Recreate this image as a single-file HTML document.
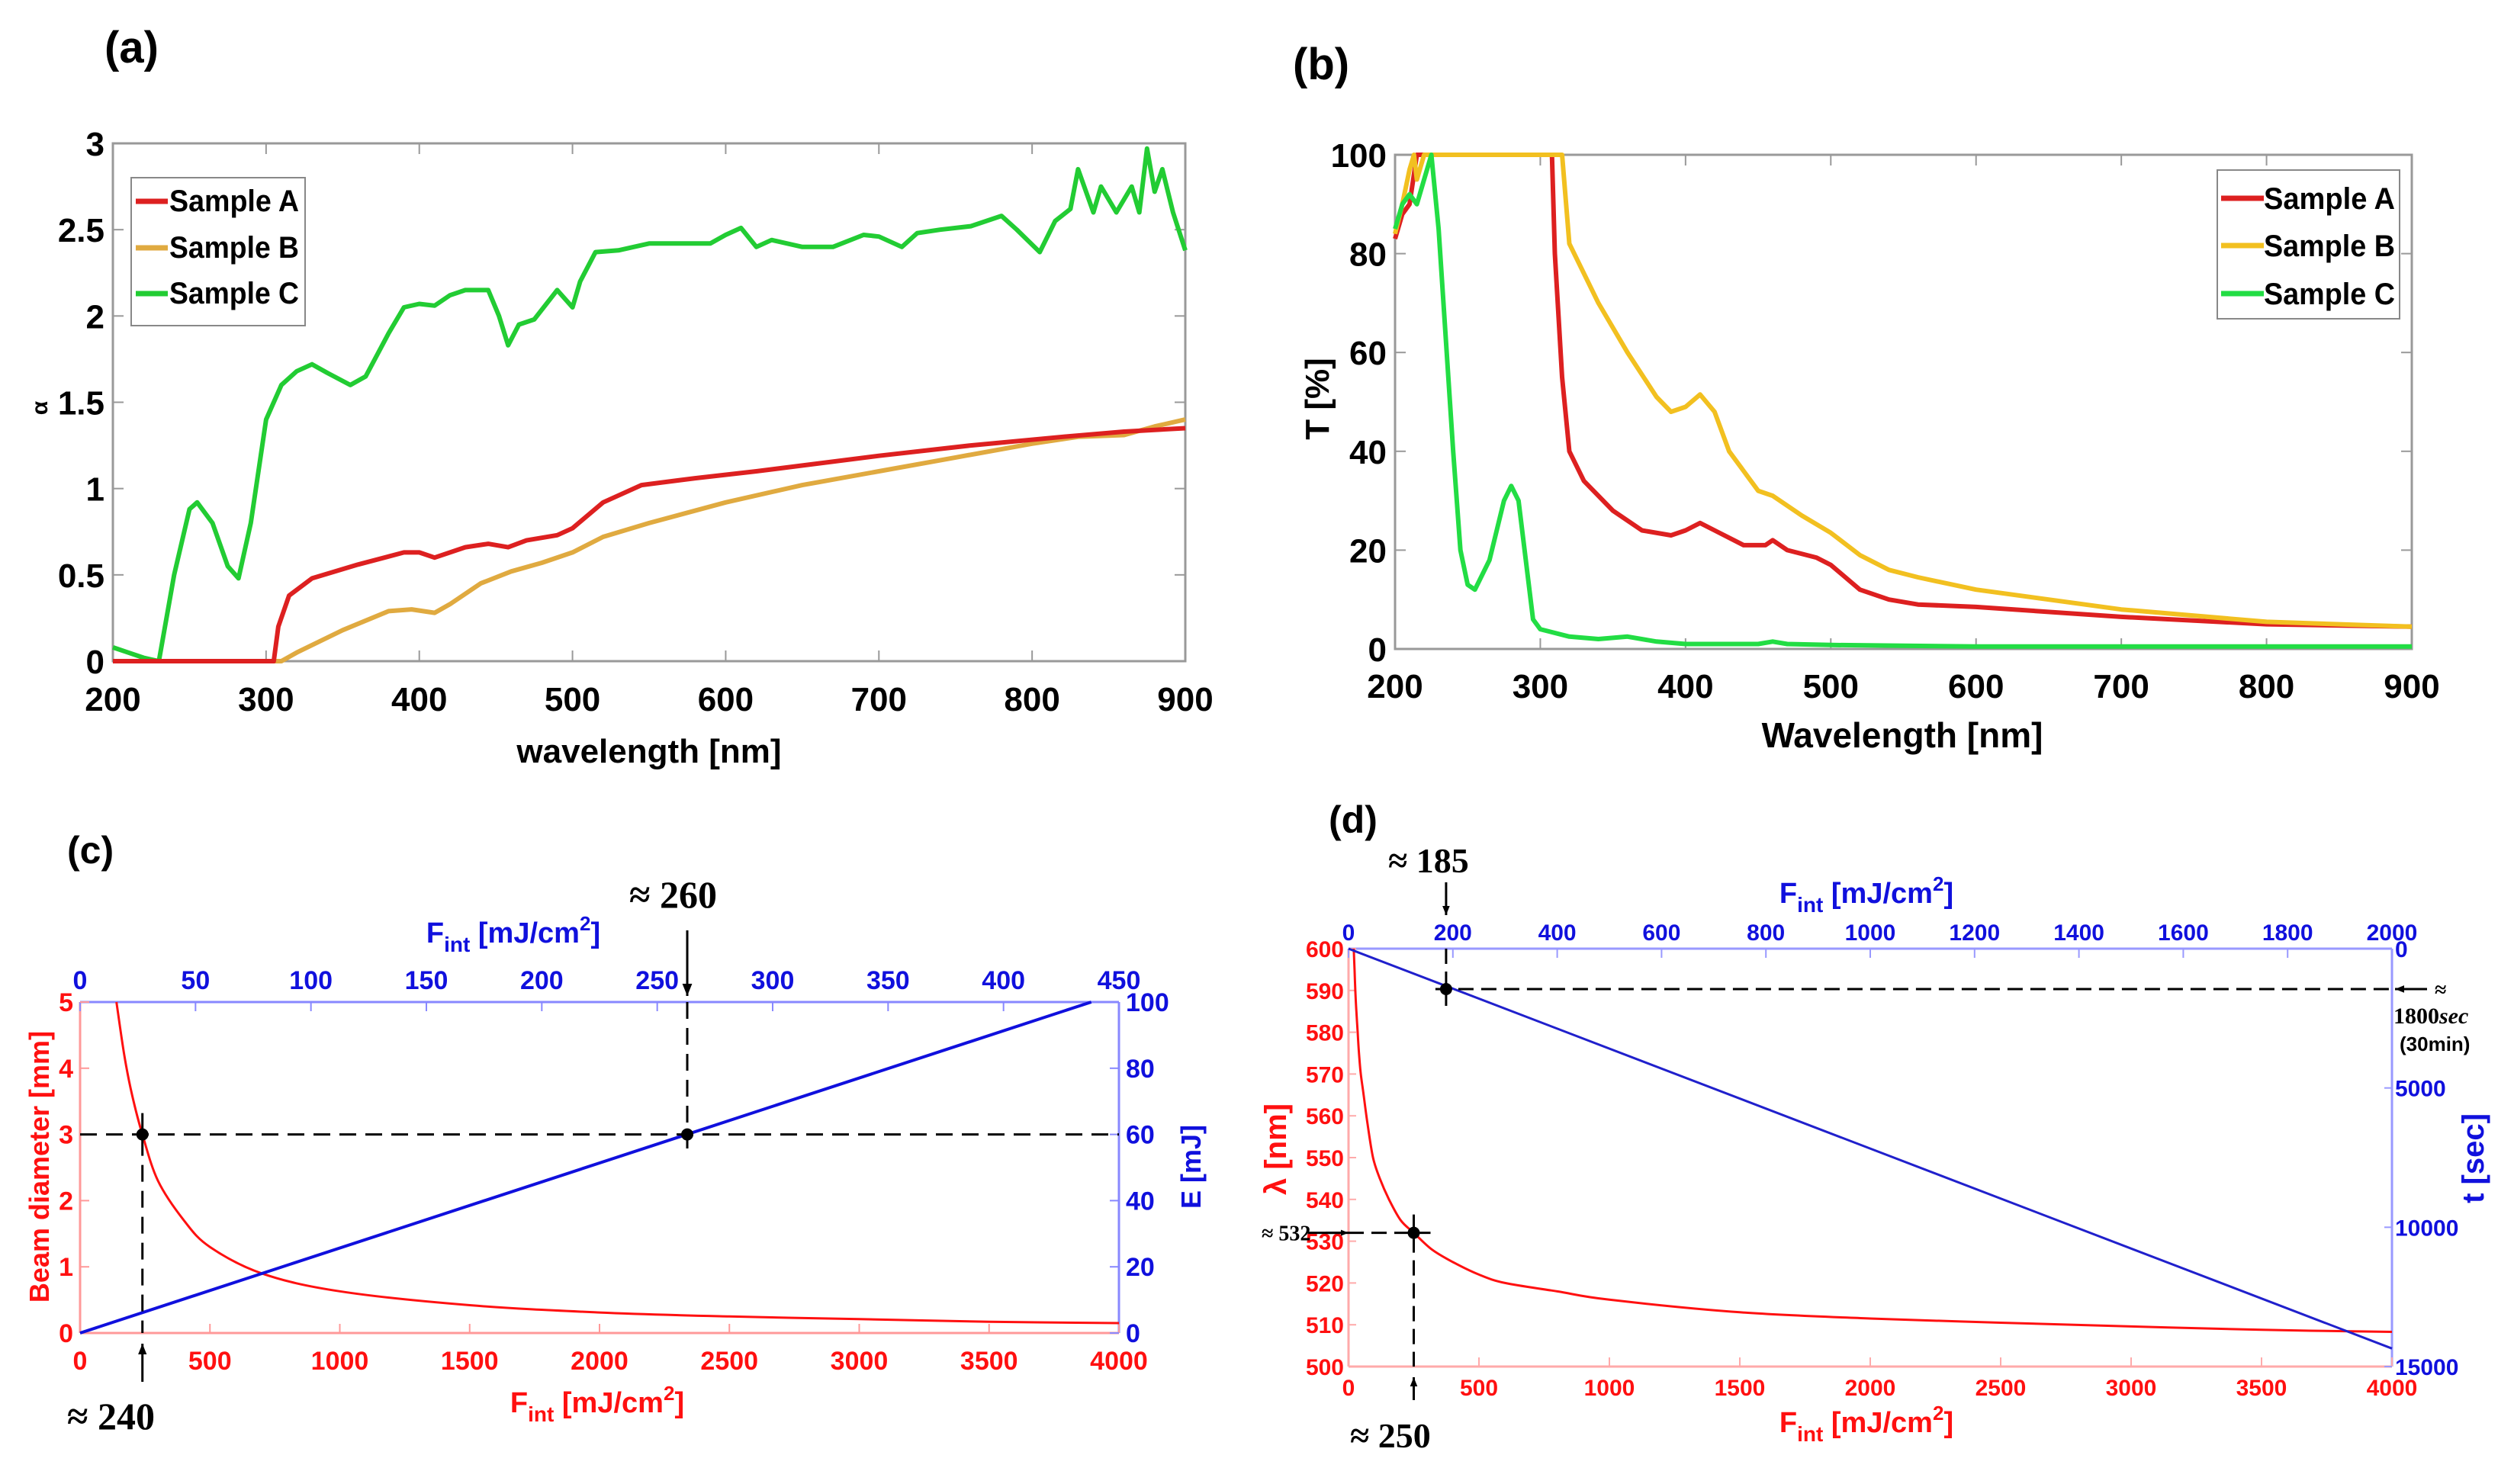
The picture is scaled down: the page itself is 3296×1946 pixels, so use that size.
<!DOCTYPE html>
<html><head><meta charset="utf-8">
<style>
html,body{margin:0;padding:0;background:#fff;}
svg{display:block;}
text{font-family:"Liberation Sans",sans-serif;font-weight:bold;}
.serif{font-family:"Liberation Serif",serif;}
</style></head>
<body>
<svg id="fig" width="3296" height="1946" viewBox="0 0 3296 1946" xmlns="http://www.w3.org/2000/svg">
<rect width="3296" height="1946" fill="#fff"/>
<g id="pa"></g>
<g id="pb"></g>
<g id="pc"></g>
<g id="pd"></g>
</svg>
<script>
// ---------- Panel (a) data ----------
const aTicksX = [200,300,400,500,600,700,800,900];
const aTicksY = [0,0.5,1,1.5,2,2.5,3];
const aTickLabelsY = ["0","0.5","1","1.5","2","2.5","3"];
const aC_x = [200,210,220,230,240,250,255,265,275,282,290,300,310,320,330,340,355,365,380,390,400,410,420,430,445,452,458,465,475,490,500,505,515,530,550,570,590,600,610,620,630,650,670,690,700,715,725,740,760,780,790,805,815,825,830,840,845,855,865,870,875,880,885,892,900];
const aC_y = [0.08,0.05,0.02,0,0.5,0.88,0.92,0.8,0.55,0.48,0.8,1.4,1.6,1.68,1.72,1.67,1.6,1.65,1.9,2.05,2.07,2.06,2.12,2.15,2.15,2.0,1.83,1.95,1.98,2.15,2.05,2.2,2.37,2.38,2.42,2.42,2.42,2.47,2.51,2.4,2.44,2.4,2.4,2.47,2.46,2.4,2.48,2.5,2.52,2.58,2.5,2.37,2.55,2.62,2.85,2.6,2.75,2.6,2.75,2.6,2.97,2.72,2.85,2.6,2.38];
const aA_x = [200,305,308,315,330,360,390,400,410,430,445,458,470,490,500,520,545,580,620,700,760,820,860,900];
const aA_y = [0,0,0.2,0.38,0.48,0.56,0.63,0.63,0.6,0.66,0.68,0.66,0.7,0.73,0.77,0.92,1.02,1.06,1.1,1.19,1.25,1.3,1.33,1.35];
const aB_x = [200,310,320,350,380,395,410,420,440,460,480,500,520,550,600,650,700,750,800,830,860,880,900];
const aB_y = [0,0,0.05,0.18,0.29,0.3,0.28,0.33,0.45,0.52,0.57,0.63,0.72,0.8,0.92,1.02,1.1,1.18,1.26,1.3,1.31,1.36,1.4];

// ---------- Panel (b) data ----------
const bTicksX = [200,300,400,500,600,700,800,900];
const bTicksY = [0,20,40,60,80,100];
const bA_x = [200,205,210,215,220,300,308,310,315,320,330,350,370,390,400,410,420,440,455,460,470,490,500,520,540,560,600,700,800,900];
const bA_y = [83,88,90,100,100,100,100,80,55,40,34,28,24,23,24,25.5,24,21,21,22,20,18.5,17,12,10,9,8.5,6.5,5,4.5];
const bB_x = [200,205,210,213,215,220,310,315,320,340,360,380,390,400,410,420,430,450,460,480,500,520,540,560,600,650,700,800,900];
const bB_y = [84,90,97,100,95,100,100,100,82,70,60,51,48,49,51.5,48,40,32,31,27,23.5,19,16,14.5,12,10,8,5.5,4.5];
const bC_x = [200,205,210,215,220,225,230,240,245,250,255,265,275,280,285,290,295,300,320,340,360,380,400,450,460,470,500,600,900];
const bC_y = [85,90,92,90,95,100,85,40,20,13,12,18,30,33,30,18,6,4,2.5,2,2.5,1.5,1,1,1.5,1,0.8,0.5,0.5];

// ---------- Panel (c) data ----------
const cBotTicks = [0,500,1000,1500,2000,2500,3000,3500,4000];
const cTopTicks = [0,50,100,150,200,250,300,350,400,450];
const cLeftTicks = [0,1,2,3,4,5];
const cRightTicks = [0,20,40,60,80,100];
const cD_F = [140,170,200,240,300,400,500,700,1000,1500,2000,2500,3000,3500,4000];
const cD_v = [5,4.2,3.6,3,2.3,1.7,1.3,0.9,0.63,0.42,0.31,0.25,0.21,0.17,0.15];
const cE_F = [0,438];
const cE_v = [0,100];
const cMarkD = [240,3];
const cMarkE = [263,60];

// ---------- Panel (d) data ----------
const dBotTicks = [0,500,1000,1500,2000,2500,3000,3500,4000];
const dTopTicks = [0,200,400,600,800,1000,1200,1400,1600,1800,2000];
const dLeftTicks = [500,510,520,530,540,550,560,570,580,590,600];
const dRightTicks = [0,5000,10000,15000];
const dL_F = [20,23,26,30,35,40,47,58,73,94,120,155,200,250,320,400,500,600,800,1000,1500,2000,2500,3000,3500,4000];
const dL_v = [600,595,590,585,580,575,570,565,558,550,545,540,535,532,528,525,522,520,518,516,513,511.5,510.5,509.6,508.8,508.3];
const dT_F = [0,2000];
const dT_v = [0,14350];
const dMarkL = [250,532];
const dMarkT = [187,1450];

// ---------- helpers ----------
const NS="http://www.w3.org/2000/svg";
function el(parent,tag,attrs,txt){const e=document.createElementNS(NS,tag);for(const k in attrs)e.setAttribute(k,attrs[k]);if(txt!==undefined)e.textContent=txt;parent.appendChild(e);return e;}
function lin(d0,d1,r0,r1){return v=>r0+(v-d0)/(d1-d0)*(r1-r0);}
function pathD(xs,ys,sx,sy){return xs.map((x,i)=>(i?'L':'M')+sx(x).toFixed(1)+' '+sy(ys[i]).toFixed(1)).join(' ');}
function smoothD(xs,ys,sx,sy){
  const P=xs.map((x,i)=>[sx(x),sy(ys[i])]);let d='M'+P[0][0]+' '+P[0][1];
  for(let i=0;i<P.length-1;i++){const p0=P[Math.max(0,i-1)],p1=P[i],p2=P[i+1],p3=P[Math.min(P.length-1,i+2)];
    const c1=[p1[0]+(p2[0]-p0[0])/6,p1[1]+(p2[1]-p0[1])/6],c2=[p2[0]-(p3[0]-p1[0])/6,p2[1]-(p3[1]-p1[1])/6];
    d+=' C'+c1[0].toFixed(1)+' '+c1[1].toFixed(1)+' '+c2[0].toFixed(1)+' '+c2[1].toFixed(1)+' '+p2[0].toFixed(1)+' '+p2[1].toFixed(1);}
  return d;}

// ================= Panel (a) =================
(function(){
const g=document.getElementById('pa');
const L=148,R=1554,T=188,B=867;
const sx=lin(200,900,L,R), sy=lin(0,3,B,T);
let t=el(g,'text',{x:137,y:82,'font-size':58});t.textContent='(a)';


const box=el(g,'rect',{x:L,y:T,width:R-L,height:B-T,fill:'none',stroke:'#999','stroke-width':3});


aTicksX.forEach(v=>{el(g,'line',{x1:sx(v),x2:sx(v),y1:B,y2:B-14,stroke:'#999','stroke-width':2});el(g,'line',{x1:sx(v),x2:sx(v),y1:T,y2:T+14,stroke:'#999','stroke-width':2});
  const tx=el(g,'text',{x:sx(v),y:932,'font-size':44,'text-anchor':'middle'},String(v));
  
  });
aTicksY.forEach((v,i)=>{el(g,'line',{x1:L,x2:L+14,y1:sy(v),y2:sy(v),stroke:'#999','stroke-width':2});el(g,'line',{x1:R,x2:R-14,y1:sy(v),y2:sy(v),stroke:'#999','stroke-width':2});
  const tx=el(g,'text',{x:137,y:sy(v)+16,'font-size':44,'text-anchor':'end'},aTickLabelsY[i]);
  
  });
const xl=el(g,'text',{x:(L+R)/2,y:1000,'font-size':44,'text-anchor':'middle','font-weight':'normal'},'wavelength [nm]');


const yl=el(g,'text',{x:0,y:0,'font-size':30,'text-anchor':'middle','font-weight':'normal',transform:'translate(62,535) rotate(-90)'},'α');


[[aC_x,aC_y,'#22cc33','series-sample-c'],[aB_x,aB_y,'#e0aa40','series-sample-b'],[aA_x,aA_y,'#dd2020','series-sample-a']].forEach(s=>{
  const p=el(g,'path',{d:pathD(s[0],s[1],sx,sy),fill:'none',stroke:s[2],'stroke-width':6,'stroke-linejoin':'round'});
  
  });
const lg=el(g,'g',{});


el(lg,'rect',{x:172,y:233,width:228,height:194,fill:'#fff',stroke:'#888','stroke-width':2});
[['Sample A','#dd2020',277],['Sample B','#e0aa40',338],['Sample C','#22cc33',398]].forEach(e=>{
  const en=el(lg,'g',{});
  
  
  el(en,'line',{x1:178,x2:220,y1:e[2]-13,y2:e[2]-13,stroke:e[1],'stroke-width':7});
  el(en,'text',{x:222,y:e[2],'font-size':40,textLength:170,lengthAdjust:'spacingAndGlyphs'},e[0]);});
})();

// ================= Panel (b) =================
(function(){
const g=document.getElementById('pb');
const L=1829,R=3162,T=203,B=851;
const sx=lin(200,900,L,R), sy=lin(0,100,B,T);
let t=el(g,'text',{x:1695,y:104,'font-size':58},'(b)');


const box=el(g,'rect',{x:L,y:T,width:R-L,height:B-T,fill:'none',stroke:'#999','stroke-width':3});


bTicksX.forEach(v=>{el(g,'line',{x1:sx(v),x2:sx(v),y1:B,y2:B-14,stroke:'#999','stroke-width':2});el(g,'line',{x1:sx(v),x2:sx(v),y1:T,y2:T+14,stroke:'#999','stroke-width':2});
  const tx=el(g,'text',{x:sx(v),y:915,'font-size':44,'text-anchor':'middle'},String(v));
  
  });
bTicksY.forEach(v=>{el(g,'line',{x1:L,x2:L+14,y1:sy(v),y2:sy(v),stroke:'#999','stroke-width':2});el(g,'line',{x1:R,x2:R-14,y1:sy(v),y2:sy(v),stroke:'#999','stroke-width':2});
  const tx=el(g,'text',{x:1818,y:sy(v)+16,'font-size':44,'text-anchor':'end'},String(v));
  
  });
const xl=el(g,'text',{x:2494,y:980,'font-size':46,'text-anchor':'middle'},'Wavelength [nm]');


const yl=el(g,'text',{x:0,y:0,'font-size':44,'text-anchor':'middle',transform:'translate(1742,523) rotate(-90)'},'T  [%]');


[[bA_x,bA_y,'#dd2020','series-sample-a'],[bB_x,bB_y,'#f2c020','series-sample-b'],[bC_x,bC_y,'#22dd44','series-sample-c']].forEach(s=>{
  const p=el(g,'path',{d:pathD(s[0],s[1],sx,sy),fill:'none',stroke:s[2],'stroke-width':6,'stroke-linejoin':'round'});
  
  });
const lg=el(g,'g',{});


el(lg,'rect',{x:2907,y:223,width:239,height:195,fill:'#fff',stroke:'#888','stroke-width':2});
[['Sample A','#dd2020',274],['Sample B','#f2c020',336],['Sample C','#22dd44',399]].forEach(e=>{
  const en=el(lg,'g',{});
  
  
  el(en,'line',{x1:2912,x2:2968,y1:e[2]-14,y2:e[2]-14,stroke:e[1],'stroke-width':7});
  el(en,'text',{x:2968,y:e[2],'font-size':40,textLength:172,lengthAdjust:'spacingAndGlyphs'},e[0]);});
})();

function arrow(g,x1,y1,x2,y2,hs,name){
  const a=el(g,'g',{});
  
  
  el(a,'line',{x1:x1,y1:y1,x2:x2,y2:y2,stroke:'#000','stroke-width':3});
  const ang=Math.atan2(y2-y1,x2-x1),c=Math.cos(ang),s=Math.sin(ang);
  const p=[[x2,y2],[x2-hs*c+hs*0.4*s,y2-hs*s-hs*0.4*c],[x2-hs*c-hs*0.4*s,y2-hs*s+hs*0.4*c]];
  el(a,'polygon',{points:p.map(q=>q.join(',')).join(' '),fill:'#000'});
}

// ================= Panel (c) =================
(function(){
const g=document.getElementById('pc');
const L=105,R=1467,T=1314,B=1748;
const sxB=lin(0,4000,L,R), sxT=lin(0,450,L,R), syL=lin(0,5,B,T), syR=lin(0,100,B,T);
let t=el(g,'text',{x:88,y:1132,'font-size':50},'(c)');


el(g,'line',{x1:L,x2:R,y1:T,y2:T,stroke:'#8888ff','stroke-width':3});
el(g,'line',{x1:R,x2:R,y1:T,y2:B,stroke:'#8888ff','stroke-width':3});
el(g,'line',{x1:L,x2:L,y1:T,y2:B,stroke:'#ff9999','stroke-width':3});
el(g,'line',{x1:L,x2:R,y1:B,y2:B,stroke:'#ff9999','stroke-width':3});
cBotTicks.forEach(v=>{el(g,'line',{x1:sxB(v),x2:sxB(v),y1:B,y2:B-12,stroke:'#ff9999','stroke-width':2});
  const tx=el(g,'text',{x:sxB(v),y:1796,'font-size':34,'text-anchor':'middle',fill:'#ff1010'},String(v));
  
  });
cTopTicks.forEach(v=>{el(g,'line',{x1:sxT(v),x2:sxT(v),y1:T,y2:T+12,stroke:'#8888ff','stroke-width':2});
  const tx=el(g,'text',{x:sxT(v),y:1297,'font-size':34,'text-anchor':'middle',fill:'#1010dd'},String(v));
  
  });
cLeftTicks.forEach(v=>{el(g,'line',{x1:L,x2:L+12,y1:syL(v),y2:syL(v),stroke:'#ff9999','stroke-width':2});
  const tx=el(g,'text',{x:96,y:syL(v)+12,'font-size':34,'text-anchor':'end',fill:'#ff1010'},String(v));
  
  });
cRightTicks.forEach(v=>{el(g,'line',{x1:R,x2:R-12,y1:syR(v),y2:syR(v),stroke:'#8888ff','stroke-width':2});
  const tx=el(g,'text',{x:1476,y:syR(v)+12,'font-size':34,fill:'#1010dd'},String(v));
  
  });
let a=el(g,'text',{x:0,y:0,'font-size':36,'text-anchor':'middle',fill:'#ff1010',transform:'translate(64,1530) rotate(-90)'},'Beam diameter [mm]');


a=el(g,'text',{x:0,y:0,'font-size':36,'text-anchor':'middle',fill:'#1010dd',transform:'translate(1574,1530) rotate(-90)'},'E [mJ]');


a=el(g,'text',{x:783,y:1852,'font-size':38,'text-anchor':'middle',fill:'#ff1010'});
a.innerHTML='F<tspan dy="12" font-size="28">int</tspan><tspan dy="-12"> [mJ/cm</tspan><tspan dy="-16" font-size="26">2</tspan><tspan dy="16">]</tspan>';


a=el(g,'text',{x:673,y:1236,'font-size':38,'text-anchor':'middle',fill:'#1010dd'});
a.innerHTML='F<tspan dy="12" font-size="28">int</tspan><tspan dy="-12"> [mJ/cm</tspan><tspan dy="-16" font-size="26">2</tspan><tspan dy="16">]</tspan>';


let p=el(g,'path',{d:smoothD(cD_F,cD_v,sxB,syL),fill:'none',stroke:'#ff1010','stroke-width':3});


p=el(g,'path',{d:pathD(cE_F,cE_v,sxT,syR),fill:'none',stroke:'#1010dd','stroke-width':4});


const dx=sxB(cMarkD[0]), dy=syL(cMarkD[1]), ex=sxT(cMarkE[0]), ey=syR(cMarkE[1]);
el(g,'line',{x1:L,x2:R,y1:dy,y2:dy,stroke:'#000','stroke-width':3,'stroke-dasharray':'22 12'});
el(g,'line',{x1:dx,x2:dx,y1:dy-28,y2:B,stroke:'#000','stroke-width':3,'stroke-dasharray':'22 12'});
el(g,'line',{x1:ex,x2:ex,y1:T,y2:ey+22,stroke:'#000','stroke-width':3,'stroke-dasharray':'22 12'});
let m=el(g,'circle',{cx:dx,cy:dy,r:8,fill:'#000'});


m=el(g,'circle',{cx:ex,cy:ey,r:8,fill:'#000'});


arrow(g,ex,1220,ex,1306,16,'arrow-260');
arrow(g,dx,1812,dx,1762,14,'arrow-240');
a=el(g,'text',{x:825,y:1190,'font-size':50,class:'serif'},'≈ 260');


a=el(g,'text',{x:88,y:1874,'font-size':50,class:'serif'},'≈ 240');


})();

// ================= Panel (d) =================
(function(){
const g=document.getElementById('pd');
const L=1768,R=3136,T=1244,B=1792;
const sxB=lin(0,4000,L,R), sxT=lin(0,2000,L,R), syL=lin(500,600,B,T), syR=lin(0,15000,T,B);
let t=el(g,'text',{x:1742,y:1092,'font-size':50},'(d)');


el(g,'line',{x1:L,x2:R,y1:T,y2:T,stroke:'#9999ff','stroke-width':3});
el(g,'line',{x1:R,x2:R,y1:T,y2:B,stroke:'#9999ff','stroke-width':3});
el(g,'line',{x1:L,x2:L,y1:T,y2:B,stroke:'#ffaaaa','stroke-width':3});
el(g,'line',{x1:L,x2:R,y1:B,y2:B,stroke:'#ffaaaa','stroke-width':3});
dBotTicks.forEach(v=>{el(g,'line',{x1:sxB(v),x2:sxB(v),y1:B,y2:B-12,stroke:'#ffaaaa','stroke-width':2});
  const tx=el(g,'text',{x:sxB(v),y:1830,'font-size':30,'text-anchor':'middle',fill:'#ff1010'},String(v));
  
  });
dTopTicks.forEach(v=>{el(g,'line',{x1:sxT(v),x2:sxT(v),y1:T,y2:T+12,stroke:'#9999ff','stroke-width':2});
  const tx=el(g,'text',{x:sxT(v),y:1233,'font-size':30,'text-anchor':'middle',fill:'#1010dd'},String(v));
  
  });
dLeftTicks.forEach(v=>{el(g,'line',{x1:L,x2:L+10,y1:syL(v),y2:syL(v),stroke:'#ffaaaa','stroke-width':2});
  const tx=el(g,'text',{x:1762,y:syL(v)+11,'font-size':30,'text-anchor':'end',fill:'#ff1010'},String(v));
  
  });
dRightTicks.forEach(v=>{el(g,'line',{x1:R,x2:R-10,y1:syR(v),y2:syR(v),stroke:'#9999ff','stroke-width':2});
  const tx=el(g,'text',{x:3140,y:syR(v)+11,'font-size':30,fill:'#1010dd'},String(v));
  
  });
let a=el(g,'text',{x:0,y:0,'font-size':40,'text-anchor':'middle',fill:'#ff1010',transform:'translate(1686,1507) rotate(-90)'},'λ  [nm]');


a=el(g,'text',{x:0,y:0,'font-size':40,'text-anchor':'middle',fill:'#1010dd',transform:'translate(3256,1519) rotate(-90)'},'t  [sec]');


a=el(g,'text',{x:2447,y:1878,'font-size':38,'text-anchor':'middle',fill:'#ff1010'});
a.innerHTML='F<tspan dy="12" font-size="28">int</tspan><tspan dy="-12"> [mJ/cm</tspan><tspan dy="-16" font-size="26">2</tspan><tspan dy="16">]</tspan>';


a=el(g,'text',{x:2447,y:1184,'font-size':38,'text-anchor':'middle',fill:'#1010dd'});
a.innerHTML='F<tspan dy="12" font-size="28">int</tspan><tspan dy="-12"> [mJ/cm</tspan><tspan dy="-16" font-size="26">2</tspan><tspan dy="16">]</tspan>';


let p=el(g,'path',{d:smoothD(dL_F,dL_v,sxB,syL),fill:'none',stroke:'#ff1010','stroke-width':3});


p=el(g,'path',{d:pathD(dT_F,dT_v,sxT,syR),fill:'none',stroke:'#2020cc','stroke-width':3});


const lx=sxB(dMarkL[0]), ly=syL(dMarkL[1]), tx_=sxT(dMarkT[0]), ty=syR(dMarkT[1]);
el(g,'line',{x1:L-30,x2:lx+22,y1:ly,y2:ly,stroke:'#000','stroke-width':3,'stroke-dasharray':'20 10'});
el(g,'line',{x1:lx,x2:lx,y1:ly-24,y2:B,stroke:'#000','stroke-width':3,'stroke-dasharray':'20 10'});
el(g,'line',{x1:tx_-14,x2:R,y1:ty,y2:ty,stroke:'#000','stroke-width':3,'stroke-dasharray':'20 10'});
el(g,'line',{x1:tx_,x2:tx_,y1:T,y2:ty+22,stroke:'#000','stroke-width':3,'stroke-dasharray':'20 10'});
let m=el(g,'circle',{cx:lx,cy:ly,r:8,fill:'#000'});


m=el(g,'circle',{cx:tx_,cy:ty,r:8,fill:'#000'});


arrow(g,tx_,1157,tx_,1200,12,'arrow-185');
arrow(g,lx,1836,lx,1806,12,'arrow-250');
arrow(g,3182,ty,3140,ty,12,'arrow-1800sec');
arrow(g,1715,ly,1768,ly,10,'arrow-532');
a=el(g,'text',{x:1820,y:1144,'font-size':46,class:'serif'},'≈ 185');


a=el(g,'text',{x:1770,y:1898,'font-size':46,class:'serif'},'≈ 250');


a=el(g,'text',{x:1654,y:ly+10,'font-size':28,class:'serif','font-weight':'normal'},'≈ 532');


a=el(g,'text',{x:3192,y:ty+10,'font-size':28,class:'serif','font-weight':'normal'},'≈');


a=el(g,'text',{x:3138,y:1342,'font-size':30,class:'serif'});
a.innerHTML='1800<tspan font-style="italic">sec</tspan>';


a=el(g,'text',{x:3146,y:1378,'font-size':26},'(30min)');


})();
</script>
</body></html>
